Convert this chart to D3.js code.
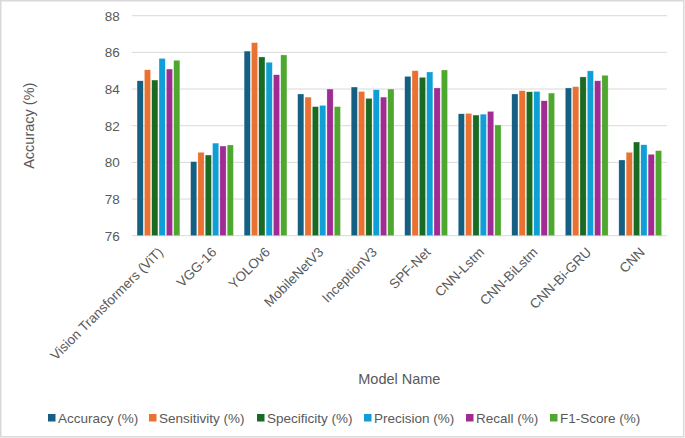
<!DOCTYPE html>
<html>
<head>
<meta charset="utf-8">
<script src="https://cdn.jsdelivr.net/npm/d3@7"></script>
<style>
  body { margin: 0; background: #fff; }
  svg { display: block; font-family: "Liberation Sans", Arial, sans-serif; }
</style>
</head>
<body>
<script>
// data
const models = ["Vision Transformers (ViT)", "VGG-16", "YOLOv6", "MobileNetV3", "InceptionV3",
  "SPF-Net", "CNN-Lstm", "CNN-BiLstm", "CNN-Bi-GRU", "CNN"];
const metrics = ["Accuracy (%)", "Sensitivity (%)", "Specificity (%)", "Precision (%)", "Recall (%)", "F1-Score (%)"];
const accuracy    = [84.45, 80.04, 86.07, 83.73, 84.11, 84.69, 82.65, 83.73, 84.06, 80.13];
const sensitivity = [85.05, 80.55, 86.53, 83.56, 83.87, 85.00, 82.67, 83.91, 84.13, 80.55];
const specificity = [84.49, 80.40, 85.75, 83.04, 83.49, 84.64, 82.58, 83.85, 84.66, 81.11];
const precision   = [85.67, 81.05, 85.46, 83.11, 83.96, 84.93, 82.63, 83.87, 84.99, 80.96];
const recall      = [85.09, 80.89, 84.78, 84.00, 83.56, 84.06, 82.78, 83.36, 84.45, 80.44];
const f1score     = [85.57, 80.95, 85.86, 83.04, 84.00, 85.04, 82.04, 83.78, 84.75, 80.64];
const yTicks = [76, 78, 80, 82, 84, 86, 88];
const colors = ["#156082", "#e97132", "#196b24", "#0f9ed5", "#a02b93", "#4ea72e"];

const series = [accuracy, sensitivity, specificity, precision, recall, f1score];

const width = 685, height = 438;
const margin = {top: 15.7, right: 18, bottom: 202.3, left: 131.7};
const textColor = "#595959";

const svg = d3.select("body").append("svg")
  .attr("width", width)
  .attr("height", height);

// chart area border
svg.append("rect")
  .attr("x", 0.75).attr("y", 0.75)
  .attr("width", width - 2).attr("height", height - 2)
  .attr("fill", "none")
  .attr("stroke", "#d9d9d9")
  .attr("stroke-width", 1.5);

const x = d3.scaleBand()
  .domain(models)
  .range([margin.left, width - margin.right])
  .paddingInner(0.2)
  .paddingOuter(0.1);

const x1 = d3.scaleBand()
  .domain(metrics)
  .range([0, x.bandwidth()])
  .paddingInner(0.15);

const y = d3.scaleLinear()
  .domain([76, 88])
  .range([height - margin.bottom, margin.top]);

// gridlines
svg.append("g")
  .selectAll("line")
  .data(yTicks)
  .join("line")
    .attr("x1", margin.left)
    .attr("x2", width - margin.right)
    .attr("y1", d => y(d))
    .attr("y2", d => y(d))
    .attr("stroke", "#d9d9d9")
    .attr("stroke-width", 1);

// y axis labels
const yAxis = svg.append("g")
  .attr("transform", `translate(${margin.left - 12},0)`)
  .call(d3.axisLeft(y).tickValues(yTicks).tickSize(0).tickPadding(0));
yAxis.select(".domain").remove();
yAxis.selectAll("text")
  .attr("fill", textColor)
  .style("font-size", "13.5px");

// bars
const groups = svg.append("g")
  .selectAll("g")
  .data(models)
  .join("g")
    .attr("transform", d => `translate(${x(d)},0)`);

groups.selectAll("rect")
  .data((d, i) => metrics.map((m, j) => ({metric: m, value: series[j][i], color: colors[j]})))
  .join("rect")
    .attr("x", d => x1(d.metric))
    .attr("width", x1.bandwidth())
    .attr("y", d => y(d.value))
    .attr("height", d => y(76) - y(d.value))
    .attr("fill", d => d.color)
    .attr("stroke", "#ffffff")
    .attr("stroke-opacity", 0.6)
    .attr("stroke-width", 0.5);

// x axis labels (rotated)
svg.append("g")
  .selectAll("text")
  .data(models)
  .join("text")
    .attr("transform", d => `translate(${x(d) + x.bandwidth() / 2 + 2},${y(76) + 14}) rotate(-45)`)
    .attr("text-anchor", "end")
    .attr("dy", "0.35em")
    .attr("fill", textColor)
    .style("font-size", "13.5px")
    .text(d => d);

// axis titles
svg.append("text")
  .attr("transform", `translate(34,${(margin.top + y(76)) / 2}) rotate(-90)`)
  .attr("text-anchor", "middle")
  .attr("fill", textColor)
  .style("font-size", "14.5px")
  .text("Accuracy (%)");

svg.append("text")
  .attr("x", (margin.left + width - margin.right) / 2)
  .attr("y", 384)
  .attr("text-anchor", "middle")
  .attr("fill", textColor)
  .style("font-size", "14.5px")
  .text("Model Name");

// legend
const legendX = [48, 149, 257, 364, 466, 550];
const legend = svg.append("g")
  .selectAll("g")
  .data(metrics)
  .join("g")
    .attr("transform", (d, i) => `translate(${legendX[i]},418)`);

legend.append("rect")
  .attr("x", 0).attr("y", -4)
  .attr("width", 7.5).attr("height", 7.5)
  .attr("fill", (d, i) => colors[i]);

legend.append("text")
  .attr("x", 10)
  .attr("dy", "0.35em")
  .attr("fill", textColor)
  .style("font-size", "13.5px")
  .text(d => d);
</script>
</body>
</html>
